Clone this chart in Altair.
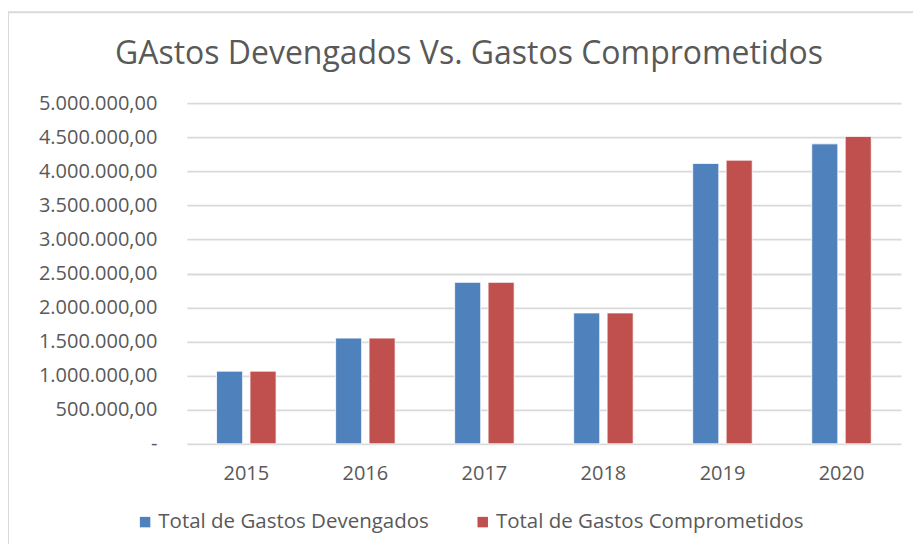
import altair as alt
import pandas as pd

years = ["2015", "2016", "2017", "2018", "2019", "2020"]
devengados = [1067000, 1552000, 2370000, 1921000, 4116000, 4403000]
comprometidos = [1067000, 1552000, 2370000, 1921000, 4164000, 4512000]
series = ["Total de Gastos Devengados", "Total de Gastos Comprometidos"]
colors = ["#4F81BD", "#C0504D"]
y_ticks = [0, 500000, 1000000, 1500000, 2000000, 2500000, 3000000, 3500000, 4000000, 4500000, 5000000]

rows = []
for i, yr in enumerate(years):
    rows.append({"year": yr, "serie": series[0], "value": devengados[i]})
    rows.append({"year": yr, "serie": series[1], "value": comprometidos[i]})
df = pd.DataFrame(rows)

FONT = "Open Sans"
GRAY = "#595959"

bars = alt.Chart(df).mark_bar(stroke="white", strokeWidth=0.8).encode(
    x=alt.X("year:N", sort=years, title=None,
            scale=alt.Scale(paddingInner=0.5, paddingOuter=0.25),
            axis=alt.Axis(labelAngle=0, ticks=False, domain=False, labelPadding=20,
                          labelFontSize=20, labelColor=GRAY, labelFont=FONT)),
    xOffset=alt.XOffset("serie:N", sort=series,
                        scale=alt.Scale(paddingInner=0.22, paddingOuter=0)),
    y=alt.Y("value:Q", title=None,
            scale=alt.Scale(domain=[0, 5000000], nice=False),
            axis=alt.Axis(values=y_ticks, format=",.2f", ticks=False, domain=False,
                          labelPadding=30, labelFontSize=20, labelColor=GRAY, labelFont=FONT,
                          labelExpr="datum.value == 0 ? '-\u00a0\u00a0\u00a0\u00a0' : datum.label",
                          grid=True, gridColor="#D9D9D9", gridWidth=1.8)),
    color=alt.Color("serie:N", sort=series,
                    scale=alt.Scale(domain=series, range=colors),
                    legend=alt.Legend(title=None, orient="none", direction="horizontal",
                                      legendX=-52, legendY=409, symbolType="square",
                                      symbolSize=110, symbolStrokeWidth=0, labelLimit=0,
                                      labelFontSize=20.5, labelColor=GRAY, labelFont=FONT,
                                      columnPadding=43, labelOffset=3)),
)

border_df = pd.DataFrame({"k": [0]})
left_border = alt.Chart(border_df).mark_rule(color="#D9D9D9", strokeWidth=2).encode(
    x=alt.value(-179), y=alt.value(-91), y2=alt.value(460))
top_border = alt.Chart(border_df).mark_rule(color="#D9D9D9", strokeWidth=2).encode(
    x=alt.value(-179), x2=alt.value(740), y=alt.value(-91))

chart = alt.layer(left_border, top_border, bars).properties(
    width=715, height=341,
    title=alt.Title("GAstos Devengados Vs. Gastos Comprometidos", fontSize=32,
                    font=FONT, color=GRAY, fontWeight="normal", anchor="middle",
                    baseline="alphabetic", dx=-75, offset=-85),
    autosize=alt.AutoSizeParams(type="none"),
    padding={"left": 179, "top": 95, "right": 12, "bottom": 100},
).configure(
    locale={"number": {"decimal": ",", "thousands": ".", "grouping": [3], "currency": ["", ""]}},
    background="white",
).configure_view(stroke=None)

chart.save("out.html", embed_options={"renderer": "svg", "actions": False})
